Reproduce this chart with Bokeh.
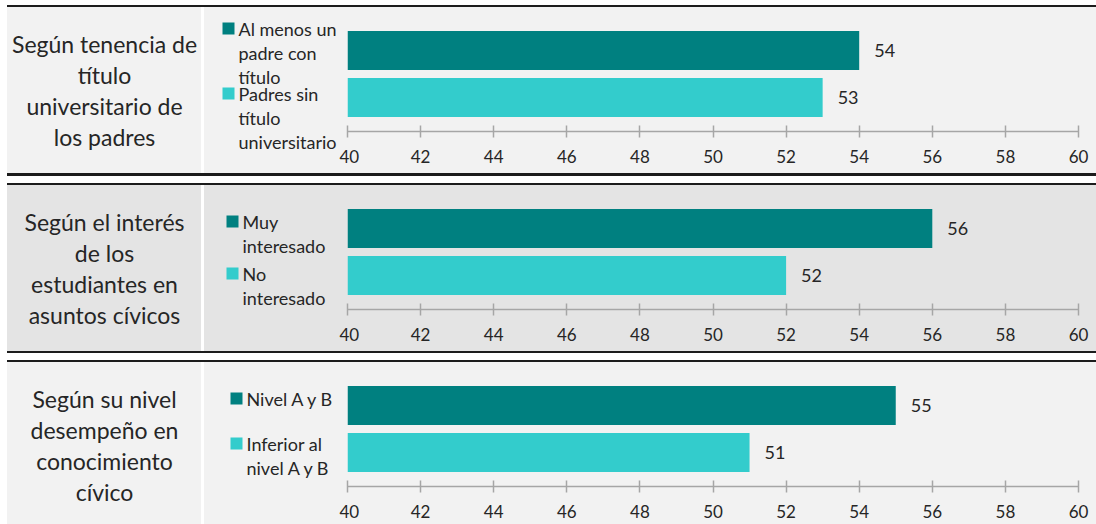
from bokeh.plotting import figure
from bokeh.layouts import column, row
from bokeh.models import Range1d, FixedTicker, Div
from bokeh.core.properties import value
from bokeh.embed import file_html
from bokeh.resources import INLINE

# ---------------- data ----------------
group_labels = [
    "Según tenencia de\ntítulo\nuniversitario de\nlos padres",
    "Según el interés\nde los\nestudiantes en\nasuntos cívicos",
    "Según su nivel\ndesempeño en\nconocimiento\ncívico",
]
series_high_labels = ["Al menos un\npadre con\ntítulo", "Muy\ninteresado", "Nivel A y B"]
series_low_labels = ["Padres sin\ntítulo\nuniversitario", "No\ninteresado", "Inferior al\nnivel A y B"]
values_high = [54, 56, 55]
values_low = [53, 52, 51]
x_ticks = [40, 42, 44, 46, 48, 50, 52, 54, 56, 58, 60]
x_min, x_max = 40, 60

# ---------------- style ----------------
COL_HIGH = "#008080"
COL_LOW = "#33CCCC"
TXT = "#262626"
AXIS = "#a6a6a6"
FONT = "Lato"
SEP = "#1c1c1c"

# layout per panel (pixels, relative to the panel top)
panels = [
    dict(h=166, bg="#f2f2f2", leg=(21, 86), sq=18),
    dict(h=166, bg="#e4e4e4", leg=(36, 88), sq=22),
    dict(h=162, bg="#f2f2f2", leg=(36, 81), sq=26),
]
AXIS_Y = 124                      # axis line offset from panel top
BAR_CENTERS, BAR_H = (43, 90), 39
LABEL_CENTER, LABEL_SPACING = 83, 31
LEG_SPACING = 24

W_LEFT, W_LABEL, W_GAP, W_LEG, W_BAR = 7, 194, 3, 135, 757


def no_align(p):
    if "frame_align" in p.properties():
        p.frame_align = False


def blank_fig(w, h, bg):
    p = figure(width=w, height=h, output_backend="svg", toolbar_location=None,
               x_axis_location=None, y_axis_location=None, min_border=0,
               x_range=Range1d(0, w), y_range=Range1d(h, 0))
    no_align(p)
    p.background_fill_color = bg
    p.border_fill_color = bg
    p.outline_line_color = None
    p.xgrid.visible = False
    p.ygrid.visible = False
    return p


def add_lines(p, text, x, first_center, spacing, size, align):
    parts = text.split("\n")
    ys = [first_center + k * spacing for k in range(len(parts))]
    p.text(x=[x] * len(parts), y=ys, text=parts,
           text_font=value(FONT), text_font_size=size, text_color=TXT,
           text_align=align, text_baseline="middle")


def make_panel(i):
    cfg = panels[i]
    h, bg = cfg["h"], cfg["bg"]

    # left label cell
    pl = blank_fig(W_LABEL, h, bg)
    n = len(group_labels[i].split("\n"))
    add_lines(pl, group_labels[i], W_LABEL / 2,
              LABEL_CENTER - (n - 1) / 2 * LABEL_SPACING, LABEL_SPACING, "23px", "center")

    gap = Div(width=W_GAP, height=h, margin=0, styles={"background-color": "white"})

    # legend cell
    pg = blank_fig(W_LEG, h, bg)
    sq = 12
    for yc, col, lab in zip(cfg["leg"], [COL_HIGH, COL_LOW],
                            [series_high_labels[i], series_low_labels[i]]):
        pg.rect(x=[cfg["sq"] + sq / 2], y=[yc], width=sq, height=sq,
                fill_color=col, line_color=None)
        add_lines(pg, lab, cfg["sq"] + sq + 4, yc, LEG_SPACING, "18px", "left")

    # bar chart
    pb = figure(width=W_BAR, height=h, output_backend="svg", toolbar_location=None,
                x_range=Range1d(x_min, x_max), y_range=Range1d(AXIS_Y, 0),
                y_axis_location=None,
                min_border_left=8, min_border_right=18,
                min_border_top=0, min_border_bottom=h - AXIS_Y)
    no_align(pb)
    pb.background_fill_color = bg
    pb.border_fill_color = bg
    pb.outline_line_color = None
    pb.xgrid.visible = False
    pb.ygrid.visible = False
    yb = list(BAR_CENTERS)
    vals = [values_high[i], values_low[i]]
    pb.hbar(y=yb, left=[x_min, x_min], right=vals, height=BAR_H,
            fill_color=[COL_HIGH, COL_LOW], line_color=None)
    pb.text(x=vals, y=yb, text=[str(v) for v in vals], x_offset=15,
            text_font=value(FONT), text_font_size="18px", text_color=TXT,
            text_align="left", text_baseline="middle")
    ax = pb.xaxis[0]
    ax.ticker = FixedTicker(ticks=x_ticks)
    ax.axis_line_color = AXIS
    ax.axis_line_width = 1.5
    ax.major_tick_line_color = AXIS
    ax.major_tick_line_width = 1.5
    ax.major_tick_in = 6
    ax.major_tick_out = 6
    ax.minor_tick_line_color = None
    ax.major_label_text_font = FONT
    ax.major_label_text_font_size = "17px"
    ax.major_label_text_color = TXT
    ax.major_label_standoff = 12

    r = row(pl, gap, pg, pb, spacing=0)
    r.styles = {"background-color": bg}
    return r


def bar_div(hh, col, w=W_LABEL + W_GAP + W_LEG + W_BAR):
    return Div(width=w, height=hh, margin=0, styles={"background-color": col})


content = column(
    bar_div(5, "white"), bar_div(2, SEP),
    make_panel(0),
    bar_div(3, SEP), bar_div(7, "white"), bar_div(2, SEP),
    make_panel(1),
    bar_div(2, SEP), bar_div(7, "white"), bar_div(2, SEP),
    make_panel(2),
    spacing=0,
)
layout = row(Div(width=W_LEFT, height=524, margin=0, styles={"background-color": "white"}),
             content, spacing=0)

open("out.html", "w").write(file_html(layout, INLINE))
